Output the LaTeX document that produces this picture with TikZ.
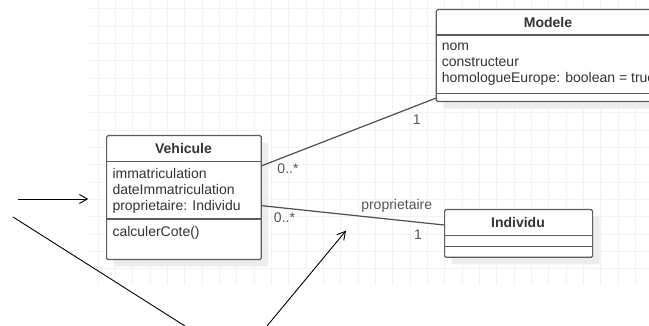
\documentclass[tikz,border=0pt]{standalone}
\usepackage{fontspec}
\setmainfont{Liberation Sans}
\usetikzlibrary{arrows.meta,calc}
\definecolor{gridc}{HTML}{F2F2F2}
\definecolor{boxc}{HTML}{5C5C5C}
\definecolor{txtc}{HTML}{333333}
\definecolor{lblc}{HTML}{555555}
\definecolor{shadc}{HTML}{EDEDED}
\begin{document}
\begin{tikzpicture}[x=1pt,y=-1pt,
  gridline/.style={draw=gridc, line width=1pt},
  umlbox/.style={draw=boxc, line width=1.2pt, fill=white, rounded corners=1.5pt, inner sep=0pt,
     preaction={fill=shadc, transform canvas={shift={(7pt,-7pt)}}}},
  divline/.style={draw=boxc, line width=1.2pt},
  hdr/.style={anchor=base, inner sep=0pt, text=txtc, font=\fontsize{14}{16}\selectfont\bfseries},
  attr/.style={anchor=base west, inner sep=0pt, text=txtc, font=\fontsize{14}{16}\selectfont},
  lbl/.style={anchor=base, inner sep=0pt, text=lblc, font=\fontsize{14}{16}\selectfont},
  conn/.style={draw=boxc!85!black, line width=1.2pt},
  free/.style={draw=black, line width=0.9pt},
  freearrow/.style={free, -{Straight Barb[length=8pt,width=9pt,line width=0.9pt]}}
]
\useasboundingbox (0,0) rectangle (649,326);
\clip (0,0) rectangle (649,326);
\fill[white] (0,0) rectangle (649,326);
% grid
\foreach \k in {0,...,31} \draw[gridline] ({98.33+17.333*\k},0) -- ({98.33+17.333*\k},285);
\foreach \k in {0,...,15} \draw[gridline] (89,{9+17.333*\k}) -- (649,{9+17.333*\k});

% Modele
\node[umlbox, anchor=north west, minimum width=224.6pt, minimum height=92pt] (mod) at (435.7,9) {};
\draw[divline] ($(mod.north west)+(0,26)$) -- ($(mod.north east)+(0,26)$);
\draw[divline] ($(mod.north west)+(0,84.3)$) -- ($(mod.north east)+(0,84.3)$);
\node[hdr] (modt) at (548,27.7) {Modele};
\node[attr] (moda1) at (441.7,51) {nom};
\node[attr] (moda2) at (441.7,67) {constructeur};
\node[attr] (moda3) at (441.7,83) {homologueEurope: boolean = true};

% Vehicule
\node[umlbox, anchor=north west, minimum width=154.7pt, minimum height=124pt] (veh) at (106,135) {};
\draw[divline] ($(veh.north west)+(0,26.7)$) -- ($(veh.north east)+(0,26.7)$);
\draw[divline] ($(veh.north west)+(0,84)$) -- ($(veh.north east)+(0,84)$);
\node[hdr] (veht) at (183.5,154) {Vehicule};
\node[attr] (veha1) at (112.3,178.5) {immatriculation};
\node[attr] (veha2) at (112.3,194.5) {dateImmatriculation};
\node[attr] (veha3) at (112.3,210.5) {proprietaire: Individu};
\node[attr] (vehm1) at (112.3,236.5) {calculerCote()};

% Individu
\node[umlbox, anchor=north west, minimum width=148pt, minimum height=47.7pt] (ind) at (444,209) {};
\draw[divline] ($(ind.north west)+(0,26.7)$) -- ($(ind.north east)+(0,26.7)$);
\draw[divline] ($(ind.north west)+(0,37.7)$) -- ($(ind.north east)+(0,37.7)$);
\node[hdr] (indt) at (518,227.3) {Individu};

% associations
\draw[conn] (veh.east |- 0,165.7) -- ($(mod.south west)+(0,-4)$);
\draw[conn] (veh.east |- 0,205.7) -- (ind.west |- 0,225);
\node[lbl] (l1) at (416.7,125) {1};
\node[lbl] (l2) at (288,174) {0..*};
\node[lbl] (l3) at (396.7,209.5) {proprietaire};
\node[lbl] (l4) at (284.5,223) {0..*};
\node[lbl] (l5) at (418,240) {1};

% free strokes
\coordinate (f1a) at (18,199);
\coordinate (f1b) at (88.3,199);
\coordinate (f2a) at (13,217);
\coordinate (f2b) at (190,329.2);
\coordinate (f3a) at (264.5,329);
\coordinate (f3b) at (346,230.7);
\draw[freearrow] (f1a) -- (f1b);
\draw[free] (f2a) -- (f2b);
\draw[freearrow] (f3a) -- (f3b);
\end{tikzpicture}
\end{document}
